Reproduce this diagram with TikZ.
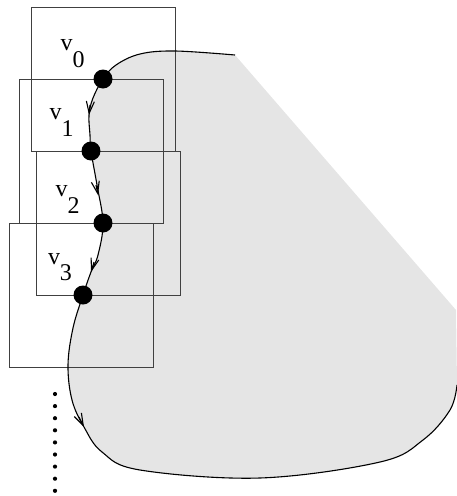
\documentclass[tikz,border=0pt]{standalone}
\usepackage{fontspec}
\setmainfont{Liberation Serif}
\usetikzlibrary{arrows.meta}
\begin{document}
\begin{tikzpicture}[x=1pt,y=-1pt,
  boxst/.style={draw=black!75, line width=1.2pt, minimum width=144pt, minimum height=144pt, inner sep=0pt, anchor=north west},
  dotst/.style={circle, fill=black, minimum size=19pt, inner sep=0pt},
  lab/.style={anchor=base west, inner sep=0pt, font=\fontsize{24}{24}\selectfont},
  curve/.style={line width=1.1pt},
  arr/.style={-{Straight Barb[length=12pt,width=8pt]}, line width=1.1pt}]
\useasboundingbox (0,0) rectangle (456,496);
\def\outline{(235,55) (175,51) (140,54) (116,65) (103,79) (93,98) (89,115) (90,135) (91,151) (97,185) (103,223) (98,255) (91,272) (83,295) (73,328) (68,365) (72,400) (84,427) (102,452) (140,470) (260,478) (380,462) (423,440) (450,410) (457,385)}
% shaded region
\fill[gray!20] plot[smooth,tension=0.6] coordinates {\outline} -- (456,310) -- cycle;
% boxes
\node[boxst] (b0) at (31,7) {};
\node[boxst] (b1) at (19,79) {};
\node[boxst] (b2) at (36,151) {};
\node[boxst] (b3) at (9,223) {};
% boundary curve
\draw[curve] plot[smooth,tension=0.6] coordinates {\outline};
% vertices
\node[dotst] (v0) at (103,79) {};
\node[dotst] (v1) at (91,151) {};
\node[dotst] (v2) at (103,223) {};
\node[dotst] (v3) at (83,295) {};
% arrows
\coordinate (a1s) at (90,105); \coordinate (a1) at (89,115);
\coordinate (a2s) at (96,185); \coordinate (a2) at (98,195);
\coordinate (a3s) at (94,262); \coordinate (a3) at (91,272);
\coordinate (a4s) at (79,417); \coordinate (a4) at (84,427);
\draw[arr] (a1s) -- (a1);
\draw[arr] (a2s) -- (a2);
\draw[arr] (a3s) -- (a3);
\draw[arr] (a4s) -- (a4);
% labels
\node[lab] (l0) at (60.5,50) {v\raisebox{-17pt}{0}};
\node[lab] (l1) at (49.5,119) {v\raisebox{-17pt}{1}};
\node[lab] (l2) at (55.5,196) {v\raisebox{-17pt}{2}};
\node[lab] (l3) at (47.8,264) {v\raisebox{-16pt}{3}};
% ellipsis
\foreach \i in {0,...,8} \fill (55,394+12.1*\i) circle (2.1pt);
\end{tikzpicture}
\end{document}
